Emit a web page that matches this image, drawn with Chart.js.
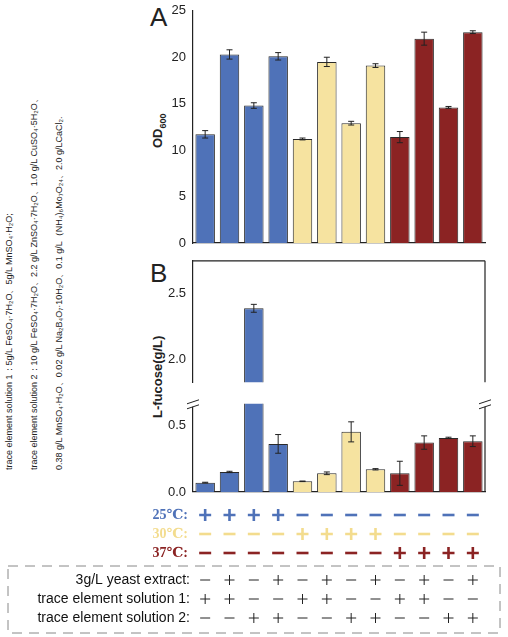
<!DOCTYPE html>
<html><head><meta charset="utf-8">
<script src="https://cdn.jsdelivr.net/npm/chart.js@4"></script>
<style>
body{margin:0;background:#fff;font-family:Arial,"Liberation Sans",sans-serif;}
.box{position:absolute;left:0;width:508px;}
.side{position:absolute;white-space:nowrap;font-size:9px;color:#222;transform-origin:0 0;transform:rotate(-90deg);}
.big{position:absolute;font-size:26px;color:#222;}
.yt{position:absolute;white-space:nowrap;font-size:13px;font-weight:bold;color:#222;transform-origin:0 0;transform:rotate(-90deg);}
.yt sub{font-size:9px;}
</style></head><body>
<div class="big" style="left:150px;top:2px">A</div>
<div class="big" style="left:150px;top:258px">B</div>
<div class="side" style="left:3px;top:470px">trace element solution 1：5g/L FeSO₄·7H₂O、5g/L MnSO₄·H₂O;</div>
<div class="side" style="left:28px;top:470px">trace element solution 2：10 g/L FeSO₄·7H₂O、2.2 g/L ZnSO₄·7H₂O、1.0 g/L CuSO₄·5H₂O、</div>
<div class="side" style="left:53px;top:470px">0.38 g/L MnSO₄·H₂O、0.02 g/L Na₂B₄O₇·10H₂O、0.1 g/L（NH₄)₆Mo₇O₂₄、2.0 g/LCaCl₂.</div>
<div class="yt" style="left:150px;top:418px">L-fucose(g/L)</div>
<div class="yt" style="left:150px;top:148px">OD<sub>600</sub></div>
<div class="box" style="top:0;height:262px"><canvas id="cA"></canvas></div>
<div class="box" style="top:250px;height:143px"><canvas id="cB1"></canvas></div>
<div class="box" style="top:393px;height:244px"><canvas id="cB2"></canvas></div>
<script>
const groups = ['1','2','3','4','5','6','7','8','9','10','11','12'];
const barColors = ['#4f72b8','#4f72b8','#4f72b8','#4f72b8','#f6e3a0','#f6e3a0','#f6e3a0','#f6e3a0','#8b2323','#8b2323','#8b2323','#8b2323'];
const od600 = [11.7,20.3,14.8,20.1,11.2,19.5,12.9,19.1,11.4,22.0,14.6,22.7];
const od600Err = [0.4,0.5,0.3,0.4,0.1,0.5,0.2,0.2,0.6,0.7,0.1,0.15];
const fucose = [0.07,0.15,2.39,0.36,0.08,0.14,0.45,0.17,0.14,0.37,0.405,0.38];
const fucoseErr = [0.003,0.005,0.03,0.07,0.002,0.01,0.075,0.005,0.09,0.05,0.005,0.04];
const upperTicks = [2.0, 2.5];
const lowerTicks = [0.0, 0.5];
const temps = ['25℃','30℃','37℃'];
const tempColors = ['#4f72b8','#f3dc8e','#8b2323'];
const tempOn = [[1,1,1,1,0,0,0,0,0,0,0,0],[0,0,0,0,1,1,1,1,0,0,0,0],[0,0,0,0,0,0,0,0,1,1,1,1]];
const factors = ['3g/L yeast extract','trace element solution 1','trace element solution 2'];
const factorOn = [[0,1,0,1,0,1,0,1,0,1,0,1],[1,1,0,0,1,1,0,0,1,1,0,0],[0,0,1,1,0,0,1,1,0,0,1,1]];

Chart.defaults.font.family = 'Arial, "Liberation Sans", sans-serif';
Chart.defaults.color = '#222';

const errorBars = {
  id: 'errorBars',
  afterDatasetsDraw(chart, args, opts) {
    const ctx = chart.ctx, x = chart.scales.x, y = chart.scales.y, a = chart.chartArea;
    ctx.save();
    ctx.beginPath(); ctx.rect(a.left, a.top, a.right - a.left, a.bottom - a.top); ctx.clip();
    ctx.strokeStyle = '#222'; ctx.lineWidth = 1;
    opts.vals.forEach((v, i) => {
      const px = x.getPixelForValue(i), e = opts.errs[i];
      const t = y.getPixelForValue(v + e), b = y.getPixelForValue(v - e);
      ctx.beginPath();
      ctx.moveTo(px, t); ctx.lineTo(px, b);
      ctx.moveTo(px - 3, t); ctx.lineTo(px + 3, t);
      ctx.moveTo(px - 3, b); ctx.lineTo(px + 3, b);
      ctx.stroke();
    });
    ctx.restore();
  }
};

function frame(chart, sides) {
  const ctx = chart.ctx, a = chart.chartArea;
  ctx.save(); ctx.strokeStyle = '#222'; ctx.lineWidth = 1.2; ctx.beginPath();
  if (sides.includes('t')) { ctx.moveTo(a.left, a.top); ctx.lineTo(a.right, a.top); }
  if (sides.includes('r')) { ctx.moveTo(a.right, a.top); ctx.lineTo(a.right, a.bottom); }
  ctx.stroke(); ctx.restore();
}

function breakMarks(ctx, xs, y) {
  ctx.save(); ctx.fillStyle = '#fff'; ctx.strokeStyle = '#222'; ctx.lineWidth = 1;
  xs.forEach(x => {
    ctx.fillRect(x - 6, y - 2, 12, 4);
    ctx.beginPath();
    ctx.moveTo(x - 6, y - 1); ctx.lineTo(x + 6, y - 5);
    ctx.moveTo(x - 6, y + 4); ctx.lineTo(x + 6, y);
    ctx.stroke();
  });
  ctx.restore();
}

function yScale(min, max, step, fixed) {
  const s = {
    min: min, max: max,
    ticks: { stepSize: step, font: { size: 13 }, color: '#222', padding: 3, callback: v => fixed ? Number(v).toFixed(1) : v },
    grid: { display: false, drawTicks: true, tickLength: 4, tickColor: '#222' },
    border: { color: '#222', width: 1.2 },
    afterFit: s => { s.width = 43; }
  };
  if (Array.isArray(fixed)) s.afterBuildTicks = sc => { sc.ticks = fixed.map(v => ({ value: v })); };
  return s;
}

function xScale(height, show) {
  return {
    display: show, offset: true,
    ticks: { display: false },
    grid: { display: false, drawTicks: true, tickLength: 4, tickColor: '#222', offset: false },
    border: { color: '#222', width: 1.2 },
    afterFit: s => { s.height = height; }
  };
}

function barData(vals) {
  return { labels: groups, datasets: [{ data: vals, backgroundColor: barColors, borderColor: '#2a2a2a', borderWidth: 1, barPercentage: 0.8, categoryPercentage: 1 }] };
}

const common = { responsive: true, maintainAspectRatio: false, animation: false, plugins: { legend: { display: false }, tooltip: { enabled: false } } };

// A: OD600
new Chart(document.getElementById('cA'), {
  type: 'bar', data: barData(od600),
  options: Object.assign({}, common, {
    layout: { padding: { left: 150, right: 23, top: 8, bottom: 0 } },
    scales: { x: xScale(19, true), y: yScale(0, 25, 5, false) },
    plugins: Object.assign({}, common.plugins, { errorBars: { vals: od600, errs: od600Err } })
  }),
  plugins: [errorBars]
});

// B upper segment
new Chart(document.getElementById('cB1'), {
  type: 'bar', data: barData(fucose),
  options: Object.assign({}, common, {
    layout: { padding: { left: 150, right: 23, top: 7, bottom: 0 } },
    scales: { x: xScale(0, false), y: yScale(1.83, 2.75, 0.5, upperTicks) },
    plugins: Object.assign({}, common.plugins, { errorBars: { vals: fucose, errs: fucoseErr } })
  }),
  plugins: [errorBars, { id: 'f1', afterDraw: c => frame(c, 'tr') }]
});

// B lower segment + design table
new Chart(document.getElementById('cB2'), {
  type: 'bar', data: barData(fucose),
  options: Object.assign({}, common, {
    layout: { padding: { left: 150, right: 23, top: 2, bottom: 0 } },
    scales: { x: xScale(145, true), y: yScale(0, 0.66, 0.5, lowerTicks) },
    plugins: Object.assign({}, common.plugins, { errorBars: { vals: fucose, errs: fucoseErr } })
  }),
  plugins: [errorBars, {
    id: 'table',
    afterDraw(c) {
      frame(c, 'r');
      const ctx = c.ctx, x = c.scales.x, a = c.chartArea;
      breakMarks(ctx, [a.left, a.right], a.top + 1);
      ctx.save();
      ctx.fillStyle = '#fff';
      const w = x.getPixelForValue(1) - x.getPixelForValue(0);
      ctx.fillRect(x.getPixelForValue(2) - w * 0.42, 0, w * 0.84, 3);
      const base = a.bottom;
      temps.forEach((t, r) => {
        const y = base + 23 + r * 19;
        ctx.fillStyle = tempColors[r];
        ctx.font = 'bold 14px "Liberation Serif", "DejaVu Serif", serif';
        ctx.textAlign = 'right'; ctx.textBaseline = 'middle';
        ctx.fillText(t + ':', 188, y);
        ctx.strokeStyle = tempColors[r]; ctx.lineWidth = 2.6;
        groups.forEach((g, i) => {
          const px = x.getPixelForValue(i);
          ctx.beginPath();
          ctx.moveTo(px - 6, y); ctx.lineTo(px + 6, y);
          if (tempOn[r][i]) { ctx.moveTo(px, y - 6); ctx.lineTo(px, y + 6); }
          ctx.stroke();
        });
      });
      ctx.strokeStyle = '#888'; ctx.lineWidth = 1; ctx.setLineDash([10, 7]);
      ctx.strokeRect(8, base + 74, 492, 67);
      ctx.setLineDash([]);
      factors.forEach((f, r) => {
        const y = base + 88 + r * 19;
        ctx.fillStyle = '#111'; ctx.font = '14px Arial, "Liberation Sans", sans-serif';
        ctx.textAlign = 'right'; ctx.textBaseline = 'middle';
        ctx.fillText(f + ':', 190, y);
        ctx.strokeStyle = '#222'; ctx.lineWidth = 1;
        groups.forEach((g, i) => {
          const px = x.getPixelForValue(i);
          ctx.beginPath();
          ctx.moveTo(px - 5, y); ctx.lineTo(px + 5, y);
          if (factorOn[r][i]) { ctx.moveTo(px, y - 5); ctx.lineTo(px, y + 5); }
          ctx.stroke();
        });
      });
      ctx.restore();
    }
  }]
});
</script>
</body></html>
